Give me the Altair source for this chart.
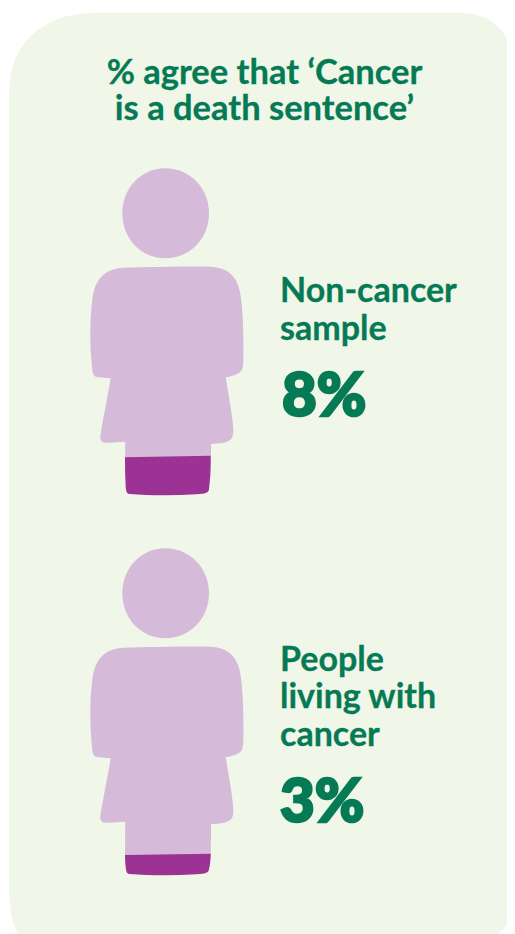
import altair as alt
import pandas as pd

# Page-pixel scales: the chart starts at the 8px page margin
X_DOMAIN = [8, 507]
Y_DOMAIN = [8, 934]

GREEN = "#067A55"
PALE = "#F0F7E8"
LILAC = "#D6BAD9"
PURPLE = "#9C3293"

# Outlines for custom symbols
PANEL_PATH = ("M86 0 L451 0 C482 0 500 18 506 47 L506 897 C503 907 496 916 488 921 "
              "L9 921 C3 910 0 895 0 870 L0 80 C0 32 32 0 86 0 Z")
HEAD_PATH = ("M256 25 C330 25 387 85 387 160 C387 235 330 295 256 295 "
             "C182 295 127 235 127 160 C127 85 182 25 256 25 Z")
BODY_PATH = ("M130 323 C220 321 320 318 390 320 C440 322 470 345 480 395 C490 450 491 540 490 600 "
             "C489 625 488 632 475 640 C465 647 450 650 437 652 C445 700 458 770 460 810 "
             "C461 840 450 850 393 852 L393 900 L136 900 L137 845 C110 846 90 848 75 848 "
             "C65 848 59 838 61 828 C70 770 85 700 92 655 C75 653 60 652 48 650 C40 648 38 640 36 620 "
             "C30 560 28 480 38 410 C48 355 75 326 130 323 Z")
LEGS_PATH_A = ("M135 892 L392 887 C392 930 390 965 387 988 C386 998 375 1002 350 1003 "
               "C280 1007 210 1007 148 1002 C140 1001 138 992 137 980 C136 950 135 920 135 892 Z")
LEGS_PATH_B = ("M135 945 L392 941 C392 960 390 975 387 988 C386 998 375 1002 350 1003 "
               "C280 1007 210 1007 148 1002 C140 1001 138 992 137 980 C136 970 135 960 135 945 Z")
LILAC_LEGS_PATH = "M136 845 L393 845 L392 950 L135 950 Z"

# Values
panel_x, panel_y = [9], [13]
person_x = [80, 80]
person_y = [160, 540]
title_lines = ["% agree that ‘Cancer", "is a death sentence’"]
title_x = [264.5, 264.5]
title_y = [84, 120]
label_lines = ["Non-cancer", "sample", "People", "living with", "cancer"]
label_x = [280, 280, 280, 280, 280]
label_y = [302, 340, 671, 708, 746]
pct_values = ["8%", "3%"]
pct_x = [282, 280]
pct_y = [416, 822]

xs = alt.Scale(domain=X_DOMAIN, range=[0, 499], nice=False, zero=False)
ys = alt.Scale(domain=Y_DOMAIN, range=[0, 926], nice=False, zero=False)
X = alt.X("x:Q", scale=xs, axis=None)
Y = alt.Y("y:Q", scale=ys, axis=None)


def symbols(xv, yv, path, color, size=4 / 9):
    df = pd.DataFrame({"x": xv, "y": yv})
    return alt.Chart(df).mark_point(
        shape=path, filled=True, fill=color, stroke=None, opacity=1, size=size
    ).encode(x=X, y=Y)


def texts(lines, xv, yv, font_size, weight, align, stroke_width=0):
    df = pd.DataFrame({"x": xv, "y": yv, "t": lines})
    return alt.Chart(df).mark_text(
        font="Lato", fontSize=font_size, fontWeight=weight, color=GREEN,
        stroke=GREEN, strokeWidth=stroke_width,
        align=align, baseline="alphabetic"
    ).encode(x=X, y=Y, text="t:N")


chart = alt.layer(
    symbols(panel_x, panel_y, PANEL_PATH, PALE, size=4),
    symbols(person_x, person_y, HEAD_PATH, LILAC),
    symbols(person_x, person_y, BODY_PATH, LILAC),
    symbols(person_x, person_y, LILAC_LEGS_PATH, LILAC),
    symbols(person_x[:1], person_y[:1], LEGS_PATH_A, PURPLE),
    symbols(person_x[1:], person_y[1:], LEGS_PATH_B, PURPLE),
    texts(title_lines, title_x, title_y, 34.5, 700, "center", 0.3),
    texts(label_lines, label_x, label_y, 34, 700, "left", 0.3),
    texts(pct_values, pct_x, pct_y, 60, 900, "left", 2.5),
).properties(
    width=499, height=926, padding=0, autosize=alt.AutoSizeParams(type="none"),
    background="white",
).configure_view(stroke=None)

chart.save("out.html", embed_options={"renderer": "svg", "actions": False})
